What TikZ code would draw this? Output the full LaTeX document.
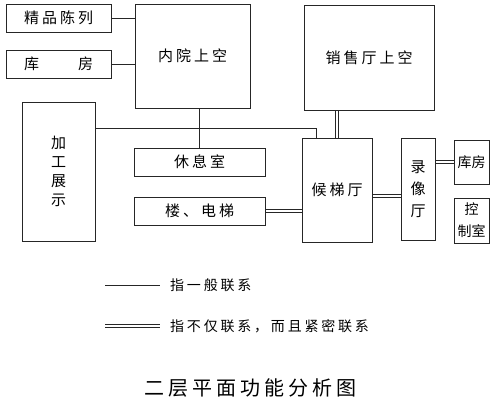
\documentclass[tikz,border=0pt]{standalone}
\usepackage{fontspec}
\usetikzlibrary{backgrounds}
\newfontfamily\cjk[LetterSpace=20]{Noto Sans CJK SC}
\newfontfamily\cjktight{Noto Sans CJK SC}
\tikzset{ %inner sep = 0mm,
  {room/.style} ={draw=black!85, line width=0.9pt, inner sep=0,
                  font=\cjk\fontsize{15}{19}\selectfont, align=center},
  {small room/.style} ={room, font=\cjktight\fontsize{14}{22}\selectfont},
  {link/.style} ={draw=black!85, line width=0.8pt},
  {close link/.style} ={draw=black!85, line width=0.7pt,
                  double, double distance=2.2pt},
  {legend/.style} ={anchor=west, inner sep=0,
                  font=\cjk\fontsize{14}{16}\selectfont},
}
\begin{document}
\begin{tikzpicture}[x=1pt,y=-1pt]
\useasboundingbox (0,0) rectangle (496,411);
% rooms
\node[room, minimum width=105, minimum height=28] (jingpin) at (58.5,18) {精品陈列};
\node[room, minimum width=105, minimum height=28] (kufang) at (58.5,64) {库\hspace{2.6em}房};
\node[room, minimum width=115, minimum height=104] (neiyuan) at (192.5,56) {内院上空};
\node[room, minimum width=130, minimum height=105] (xiaoshou) at (369,57.5) {销售厅上空};
\node[room, minimum width=73, minimum height=139] (jiagong) at (58.5,171.5) {加\\工\\展\\示};
\node[room, minimum width=131, minimum height=28] (xiuxi) at (199.5,162) {休息室};
\node[room, minimum width=131, minimum height=28] (louti) at (199.5,211) {楼、电梯};
\node[room, minimum width=70, minimum height=104] (houti) at (337,190) {候梯厅};
\node[room, minimum width=34, minimum height=102,
      font=\cjk\fontsize{15}{22}\selectfont] (luxiang) at (418,189) {录\\像\\厅};
\node[small room, minimum width=35, minimum height=44] (kufangR) at (471.5,162) {库房};
\node[small room, minimum width=35, minimum height=45] (kongzhi) at (471.5,220.5) {控\\制室};
\coordinate (bend) at (316,128);

\begin{pgfonlayer}{background}
% general links
\path[link] (jingpin.east) -- (jingpin.east -| neiyuan.west)
            (kufang.east) -- (kufang.east -| neiyuan.west)
            (xiuxi.north) -- (xiuxi.north |- neiyuan.south)
            (jiagong.east |- bend) -| (houti.north -| bend);
% close links
\path[close link] (kufang.south) -- (jiagong.north)
            (houti.north) -- (houti.north |- xiaoshou.south)
            (louti.east) -- (louti.east -| houti.west)
            ([yshift=-6pt]houti.east) -- ([yshift=-6pt]houti.east -| luxiang.west)
            (kufangR.west) -- (kufangR.west -| luxiang.east)
            ([yshift=-4pt]kongzhi.west) -- ([yshift=-4pt]kongzhi.west -| luxiang.east);
\end{pgfonlayer}

% legend
\coordinate (oneA) at (105,285);
\coordinate (oneB) at (160,285);
\coordinate (twoA) at (105,326);
\coordinate (twoB) at (160,326);
\draw[link] (oneA) -- (oneB);
\draw[close link] (twoA) -- (twoB);
\node[legend] (onetext) at (170,285) {指一般联系};
\node[legend] (twotext) at (170,326) {指不仅联系，而且紧密联系};
\node[font=\cjk\fontsize{20}{22}\selectfont, inner sep=0] (title) at (250,388) {二层平面功能分析图};
\end{tikzpicture}
\end{document}
